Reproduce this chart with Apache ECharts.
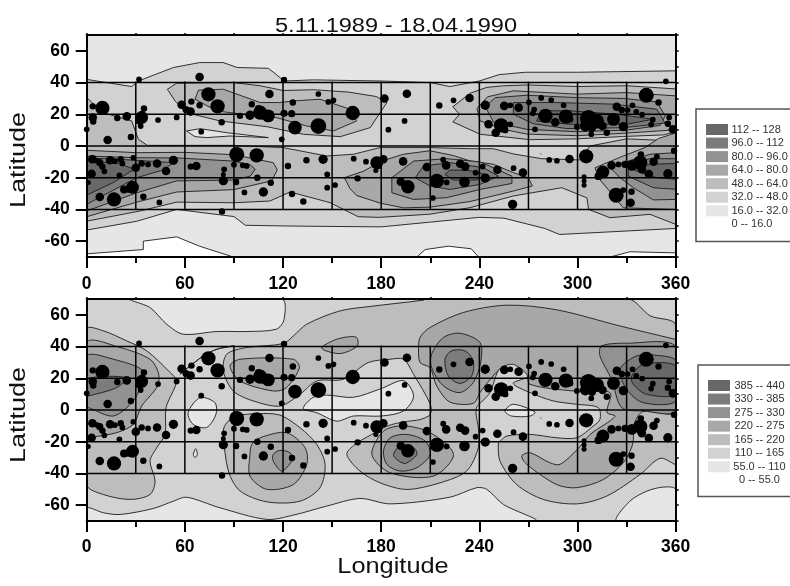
<!DOCTYPE html>
<html><head><meta charset="utf-8"><style>html,body{margin:0;padding:0;background:#fff}#c{width:790px;height:586px}</style>
<script src="https://cdn.jsdelivr.net/npm/echarts@6/dist/echarts.min.js"></script></head><body><div id="c"></div>
<script>
const titleText='5.11.1989 - 18.04.1990';
const lonTicks=[0,60,120,180,240,300,360];
const latTicks=[-60,-40,-20,0,20,40,60];
const latMinor=[-70,-60,-50,-40,-30,-20,-10,0,10,20,30,40,50,60,70];
const lonMinor=[0,30,60,90,120,150,180,210,240,270,300,330,360];
const gridLats=[-40,-20,0,20,40];
const gridLons=[30,60,90,120,150,180,210,240,270,300,330];
const levelColors=['#ffffff','#e6e6e6','#d2d2d2','#bdbdbd','#a8a8a8','#929292','#7c7c7c','#686868'];
const legendTop=['112 -- 128','96.0 -- 112','80.0 -- 96.0','64.0 -- 80.0','48.0 -- 64.0','32.0 -- 48.0','16.0 -- 32.0','0 -- 16.0'];
const legendBottom=['385 -- 440','330 -- 385','275 -- 330','220 -- 275','165 -- 220','110 -- 165','55.0 -- 110','0 -- 55.0'];
// sunspot groups: longitude, latitude, magnitude
const spots=[[0,10.5,16],[32,42,16],[69,43.5,24],[74.4,32.6,40],[80,25,40],[64,28,18],[69,25.7,18],[58,26,24],[60.7,23,20],[63.5,21.7,24],[55,18,16],[43.6,16.4,16],[33.6,18,36],[35,23.6,18],[34,20.6,16],[32,15.8,20],[33,12.6,16],[24.5,18.7,24],[18.7,17.7,18],[9.6,24,40],[3.7,25,18],[3.7,18,24],[4,15.4,18],[12.8,3.8,24],[27,5.7,18],[70,9,16],[82.5,15,18],[111.7,32.8,24],[100.9,26.3,18],[93.7,19,18],[99.8,19.4,26],[106,21,40],[111,19,36],[108,20,30],[105,23.6,20],[120.6,41.7,18],[126,27.4,18],[120.6,20.6,20],[125.3,20.4,20],[127.3,11.6,38],[141.6,12.6,44],[141.6,32.8,16],[147.7,27.8,16],[150.8,28.8,16],[162.6,20.8,40],[119.2,4.2,16],[91.7,-5.3,42],[103.9,-5.9,40],[90,-11.8,16],[95.4,-12.2,16],[97.8,-12.6,16],[104.3,-20,18],[91.3,-22.7,18],[84,-14.7,16],[83.5,-17.9,14],[83.5,-21.9,26],[96.4,-29.3,16],[108,-29,26],[112.5,-23.2,18],[123,-12.6,18],[134.3,-9,18],[144.5,-8.4,26],[147,-17.9,16],[151.8,-24.6,16],[147,-26.3,16],[125.5,-30.3,18],[132.4,-35,18],[82.7,-41.3,18],[163.2,-8,16],[170.7,-9.9,16],[165.6,-20.4,18],[177.3,-10.5,36],[181.3,-8.4,24],[178.2,-12.6,18],[176.7,-15.4,14],[182,30,24],[184.4,10.3,16],[3.5,-8.4,24],[8,-10.5,20],[9.6,-13,18],[10.8,-16,16],[6.5,-9.5,16],[14.3,-9,24],[17.3,-9.5,16],[20.8,-8.4,18],[21.8,-11,16],[28.5,-7.4,16],[30,-13.7,24],[33.6,-11,18],[37.5,-11.6,16],[43,-11,24],[48.5,-15.8,24],[53,-9,26],[63.6,-13,18],[67,-12.6,24],[3,-17.5,24],[1,-23,14],[20,-18.5,16],[8,-32.2,24],[16.7,-33.7,40],[22.8,-27.4,22],[28,-26,36],[25.5,-27,22],[34.6,-32,18],[44.4,-35.6,16],[195.7,33,24],[194.3,15.8,16],[215.5,25.5,18],[224.2,28.8,16],[234,30.3,24],[243.6,25.7,26],[255.2,25.3,24],[258.9,25.7,16],[264,24.2,24],[270.3,27.6,16],[277.8,30.3,16],[283.9,29,16],[291.5,25.7,16],[273.5,23,16],[272.7,20.6,16],[280.4,19,40],[286.4,15,24],[292.9,18.5,40],[295.5,16.8,18],[274,10.5,16],[245.6,13.7,24],[253.3,13,40],[250,8.4,24],[255.8,10,18],[258.9,13.7,16],[299.6,12,16],[306.7,17.3,48],[311.8,15.8,40],[308.8,11.6,24],[304.7,12.6,30],[315.3,12.6,24],[317.9,8.4,18],[308.4,7.4,16],[322,16.8,36],[328,12.2,26],[324,24.8,24],[327,22.7,18],[330.6,22.7,16],[333.6,25.7,16],[335.9,21.5,16],[339.5,19.8,16],[342,32,42],[349.5,27.4,18],[354,40.8,16],[346,16.6,16],[345,13.5,16],[356,18,16],[355.2,14,18],[358.3,10.5,24],[359,-3,18],[305.3,-6.5,40],[295.1,-8.2,24],[287.4,-9.3,16],[282.7,-8.8,16],[277.6,-5,3],[266.6,-16.8,24],[260.9,-14,16],[251,-15,24],[243.6,-20.2,26],[242,-13,16],[237.7,-16.8,16],[231.3,-13,24],[228.3,-11.2,24],[230.9,-22.7,30],[220,-23,16],[214,-22,40],[219.7,-12.2,24],[217.9,-8.6,16],[207.9,-13.3,24],[193.4,-9.7,24],[192,-22.5,24],[196.3,-25.7,38],[211.6,-32.8,16],[260.3,-36.8,26],[304,-19.4,14],[304,-22,14],[304,-24.8,14],[315.5,-16.4,36],[312.8,-19,22],[320.8,-12.2,24],[325,-11.6,16],[329,-11.6,20],[333.2,-12.2,30],[338.3,-10.5,40],[338.7,-5.3,18],[339.3,-14.7,24],[346.5,-9.9,24],[348.5,-6.7,16],[343.6,-17.7,24],[355.2,-17.5,26],[323.6,-31,42],[328,-27.8,16],[333,-28.8,18],[332.4,-35.8,24]];

// ---- upper panel contours (lon, lat) ----
const tBase=[[0,70],[360,70],[360,-70],[0,-70]];
const tHoleA=[[0,-70],[0,-68],[34.6,-65.3],[34.6,-60],[55,-57.3],[69,-63.2],[89.6,-70]];
const tHoleB=[[201.8,-70],[206.9,-65.3],[221,-63.2],[235,-64.8],[239.5,-70]];
const tHoleC=[[320,-70],[332,-66.7],[360,-67.4],[360,-70]];
const tBand=[[0,42],[27.5,37.5],[31.6,41],[53,49.5],[69,52.6],[83.5,52.6],[92,49.5],[111,49],[116,45],[120.6,41],[138.5,41.7],[180,41],[210,40],[222,37.5],[240,41],[252,45],[268,46.5],[300,46.5],[360,47.4],[360,-52],[289,-55.8],[280,-52],[255,-45.5],[240,-45],[210,-48],[180,-51],[126,-50.5],[97,-50],[90,-44.5],[55,-40],[30.5,-47.5],[0,-53]];
const tLens=[[61,9.5],[69.3,10.9],[85.6,8.4],[111,5.3],[87.6,6.3],[73.3,5.3],[66.2,5.9]];
const tNorthA3=[[49.3,35.8],[55,39.6],[89.6,40],[106,38],[120,35],[138.5,35.5],[160,34],[177,31.2],[183.5,27.4],[173.3,11.6],[155,5.9],[132.4,7.4],[110,12.2],[81.5,15.8],[61,21],[54,28.4]];
const tNorthA4=[[66.2,29.5],[68.3,35.2],[83.5,35.8],[106,27.4],[118,27.4],[126.3,28.4],[142.6,29.5],[161,23.2],[165,15.8],[150.8,9.5],[134.5,12.6],[116,17.9],[95.8,20],[79.5,22.1]];
const tNorthB3=[[223.8,24.8],[234.4,33.3],[244.6,37],[255,38],[270,38.5],[300,37.5],[330,38],[360,36],[360,9],[352.6,7],[328,6],[299.6,4.5],[271,4],[240.5,7.4],[223.8,15.2],[227.9,20]];
const tNorthB4=[[238.5,23.6],[245,31],[260.8,34.8],[299.6,32.7],[330,33.7],[360,31.6],[360,11],[356.6,10],[328,8],[299.6,6.5],[269,7.5],[254.8,10.5],[240.5,15.8]];
const tNorthB5=[[243.6,24.8],[249.7,30.5],[269,32],[299.6,30.5],[328,30],[348.5,27.8],[353.6,19],[350.5,13],[330,10],[299.6,9],[269,10.5],[248.7,15]];
const tNorthB6=[[260.8,20],[260.8,27.4],[287.3,27.4],[321.9,26.4],[348.4,23.2],[353.5,14.5],[328,11.5],[293.4,11],[273,14]];
const tNorthB7=[[275,15.8],[278,22.2],[295.4,22.2],[324,20],[346.4,16.9],[330,13.7],[295.4,13.7]];
const tSouth3=[[0,30.5],[10,21],[27.5,15.8],[31.6,4.2],[37,0.4],[89.6,0.4],[120,-1],[146.7,-6.3],[163,-5.2],[179.3,-1],[209.8,-1],[234.3,-1.7],[248.5,-1.7],[260.8,-5],[278,-8],[301.5,-8.8],[307.6,0],[330,4.5],[360,3.2],[360,-49.4],[344.3,-43.1],[319.8,-45.2],[306.8,-40],[305.7,-32.7],[290.4,-26.3],[260.8,-31.5],[234.3,-38.9],[209.8,-43],[179,-45],[166,-44.6],[157,-40],[148.7,-35.7],[124.3,-29],[112,-34.7],[89.6,-35.8],[55,-35.4],[32.6,-41],[0,-47.4]];
const tLeft4=[[0,-2.7],[30.6,-4.2],[60,-4],[90,-5.5],[114,-10.5],[116.5,-15],[113,-22],[90,-27.5],[55,-29],[30.6,-35.4],[0,-44.6]];
const tLeft5=[[0,-6.3],[30.6,-7.4],[55,-7.5],[89.6,-9.5],[100,-12],[103,-14.7],[100,-19],[89.6,-21.5],[55,-22],[30.6,-29.5],[0,-41]];
const tLeft6=[[0,-7.4],[30,-9],[53,-10.5],[47,-15],[30.6,-20],[0,-36.8]];
const tLeft7=[[0,-9.5],[20,-11],[29,-14.7],[16.3,-23],[0,-31]];
const tMid4=[[157.5,-20],[169.4,-15.8],[180,-9.6],[193.6,-5.2],[209.8,-3],[224,-6],[234.3,-9.4],[248.5,-11.5],[260.8,-16.8],[269.9,-20],[272.4,-25.2],[260.8,-28.4],[234.3,-35],[209.8,-38.6],[193.6,-39],[179.3,-36],[165,-31.2],[161,-27]];
const tMid5=[[186.5,-20],[199.8,-9.5],[220,-8],[240.5,-10],[259.9,-19],[259.9,-23.6],[240.5,-27.4],[220,-32.6],[199.8,-33.7],[186.5,-29.5]];
const tMid6=[[200.8,-20],[205.9,-12.6],[222,-10.5],[242.5,-13.7],[251.7,-19],[240.5,-24.2],[222,-27.4],[210,-25.3]];
const tMid7=[[219,-17.9],[222,-15.2],[232.4,-15.2],[243.6,-17.9],[238.5,-21.5],[224,-21.5]];
const tRight4=[[360,8.4],[357.5,7.4],[349.4,4.7],[341.2,-1],[328,-6.3],[310.7,-13.7],[312.7,-20],[328,-39],[360,-40]];
const tRight5=[[320.8,-12.6],[328,-10.5],[344.3,-5.2],[360,-4.2],[360,-33.7],[346.3,-34],[334.1,-26.3],[326,-20],[320.8,-14.7]];
const tRight6=[[331,-11.5],[344.3,-8],[360,-8],[360,-27.3],[346.3,-26.3],[331,-19]];
const tRight7=[[334,-14.7],[344.3,-11.5],[360,-11],[360,-21],[348.3,-20],[336,-15.8]];
const topContours=[[1,tBase],[0,tHoleA],[0,tHoleB],[0,tHoleC],[2,tBand],[1,tLens],[3,tNorthA3],[4,tNorthA4],[3,tNorthB3],[4,tNorthB4],[5,tNorthB5],[6,tNorthB6],[7,tNorthB7],[3,tSouth3],[4,tLeft4],[5,tLeft5],[6,tLeft6],[7,tLeft7],[4,tMid4],[5,tMid5],[6,tMid6],[7,tMid7],[4,tRight4],[5,tRight5],[6,tRight6],[7,tRight7]];

// ---- lower panel contours (lon, lat) ----
const bBase=[[0,70],[360,70],[360,-70],[0,-70]];
const bFootA=[[0,-61.7],[10.2,-64.8],[20.4,-65.9],[40.7,-62.1],[53,-57.5],[61,-55],[81.5,-61.7],[110,-69],[126.3,-66.3],[146.7,-60.6],[167,-55.8],[185.4,-59.2],[222,-55],[238.4,-49],[244.5,-50],[254.7,-59.6],[274,-70],[0,-70]];
const bFootB=[[323.9,-70],[332,-57.5],[342.3,-51.2],[352.5,-48.6],[360,-50],[360,-70]];
const bCapLens=[[26.5,70],[38.7,64.6],[49,54],[59,47.8],[79.5,49.5],[98,49.5],[116,51],[120.6,57],[119.2,70]];
const bCentreLens=[[62,-1.7],[69.3,7.8],[78.4,4.6],[79,-2.7],[73.3,-11],[65,-9]];
const bTinyLens=[[66.6,-24.4],[67.6,-28],[66.2,-30],[65.2,-28]];
const bMidLens=[[132.4,1],[138.5,8],[146.7,9.4],[163,8],[180,13.5],[193.7,18.5],[199.8,8.7],[193.7,-0.6],[180,-3.8],[163,-3.8],[152.8,-7],[140.6,-1.7]];
const bEastLens=[[255.6,-0.6],[260.7,3.6],[274,-1.3],[271,-3.8],[259.7,-3.8]];
const bRidge=[[57,22.5],[63.2,27.8],[71.3,34.1],[79.5,38.3],[89.6,40.4],[79.5,38.3],[71.3,34.1],[63.2,27.8]];
const bLeft3=[[0,51],[10.2,49.9],[24.4,43.6],[36.7,37.3],[51,23.6],[55,18.3],[48.5,1.5],[47.9,-15.4],[42.8,-23.8],[38.7,-32.2],[41.8,-44.8],[38.7,-53.3],[26.5,-56.4],[10.2,-53.3],[0,-47]];
const bLeft4=[[0,42.5],[20.4,39.4],[38.7,32],[43.8,23.6],[43.4,15.2],[33.6,2.5],[28.5,-9],[18.3,-14.3],[1,-17.5],[0,-17.5]];
const bLeft5=[[0,34],[16.3,32],[34.6,24.6],[32.6,14.1],[28.5,5.7],[16.3,-3.8],[1,1.5],[0,1.5]];
const bLeft6=[[0,19.4],[24.4,20.4],[18.3,14.1],[1,8.8],[0,8.8]];
const bCentre3=[[83.5,-13.3],[86.6,-38.5],[93.7,-51],[110,-57.9],[130.4,-57.5],[142.6,-49],[145.7,-34.3],[140.6,-21.7],[130.4,-11.2],[118,-3.2],[104,-2.3],[91.7,-3.8],[85.6,-8]];
const bCentre4=[[100.9,-21.7],[106,-17.5],[122,-14.3],[133.5,-23.8],[134.5,-34.3],[126.3,-47],[110,-50],[99.8,-41.7],[99.8,-28]];
const bCentre5=[[114,-28],[118,-25.5],[124.3,-27],[125.3,-32],[119.2,-38.5],[114,-32.2]];
const bNorth4=[[87.6,27.8],[93.7,32],[126.3,32],[130,26.7],[122,14],[114,12],[93.7,18.3]];
const bNorthSmall4=[[143.6,39],[152.8,44.6],[164.6,46],[165.4,40.4],[154.8,35.6]];
const bGiant3=[[205.9,69.3],[207,70],[331,70],[344.4,59.4],[360,53.5],[360,-34.5],[359.6,-34.3],[350.4,-30.5],[338.2,-40.7],[317.8,-54.3],[299.5,-59.2],[279.1,-56.4],[262.8,-47],[252.6,-32.2],[251.6,-20.6],[252.7,-19.6],[256.8,-16.4],[271,-15.4],[287.4,-17.5],[299.6,-17.5],[309.6,-10.1],[313.7,-5.9],[312.7,1.5],[299.4,3.6],[285.2,5.7],[270.9,11],[260.7,16.8],[269.9,21.5],[260.7,29.9],[252.6,26.7],[246.5,11],[242.5,6.3],[238,0.8],[239.5,-12.4],[239.4,-23.8],[232.2,-38.5],[216,-45.9],[195.6,-50.1],[179.3,-45.9],[167,-38.5],[159,-28],[164,-21.7],[174,-15.5],[184,-10],[193.7,-7.5],[203.8,-6],[210,-2.7],[210,3.6],[199.8,22.5],[193.7,32],[185.5,32],[172,29.9],[156.9,19.4],[140.6,18.3],[130.4,9.9],[118.2,2.5],[101.9,5.7],[89.6,12],[83.5,24.6],[85.6,35.2],[97.8,39.4],[120.2,41.9],[126.3,46.7],[134.5,54.1],[154.8,62.5],[173.3,65.3]];
const bBand4=[[209.8,52],[230.2,61.5],[256.7,66.1],[287.2,63.2],[325.9,53],[359.6,44.6],[360,44.6],[360,-1],[340,-1],[335,-8],[334,-19.6],[333,-23.8],[328,-33.3],[315.8,-43.8],[299.5,-49],[287.2,-47],[269,-34.3],[265.9,-29],[271,-27],[283.2,-33.3],[289.3,-34.3],[300.5,-24.2],[307.7,-15.4],[323,-4],[318,-1.5],[319.8,11],[297.4,12],[270.9,16.2],[268.9,22.5],[260.7,28.8],[253.6,26.7],[247.5,20.4],[240.4,11],[236.3,4.2],[222,5],[213.9,15.2],[209.8,26.7],[203.8,29.9],[202.8,38.4],[203.8,45.8]];
const bSouth4=[[174.3,-28],[181.4,-13.3],[193.7,-10],[210,-14.3],[224.2,-28],[212,-41.7],[185.5,-39.6]];
const bSouth5=[[181.4,-25.9],[185.5,-17.5],[195.7,-15.4],[206.9,-19.6],[210,-28],[201.8,-36.4],[191.6,-38.5],[183.5,-34.3]];
const bSouth6=[[187.5,-28],[191.6,-22.7],[199.8,-23.8],[201.8,-28],[194.7,-33.7],[189.6,-31.2]];
const bHill5=[[210.8,35.2],[218,45.7],[228.1,48.4],[240.4,42.5],[240.8,29.9],[236.3,17.3],[228.1,11],[218,15.2],[210.8,26.7]];
const bHill6=[[219,32],[223,37.3],[231.2,37.3],[236.3,31],[235.3,21.5],[228.1,16.8],[221,21.5]];
const bEast5=[[314.7,40.4],[330,42.1],[360,40],[360,-0.6],[340.2,-0.6],[327,1.5],[320.8,19.4],[313.7,34.1]];
const bEast6=[[326,25.7],[336.1,34.1],[348.3,34.5],[360,31],[360,5.7],[340.2,4.6],[330,13]];
const bEast7=[[333.1,21.5],[340.2,28.8],[360,27.8],[360,9.9],[342.2,9.9],[334.1,16.2]];
const bottomContours=[[2,bBase],[1,bFootA],[1,bFootB],[1,bCapLens],[1,bCentreLens],[1,bTinyLens],[1,bMidLens],[1,bEastLens],[2,bRidge],[3,bLeft3],[4,bLeft4],[5,bLeft5],[6,bLeft6],[3,bCentre3],[4,bCentre4],[5,bCentre5],[3,bGiant3],[4,bNorth4],[4,bNorthSmall4],[4,bBand4],[4,bSouth4],[5,bSouth5],[6,bSouth6],[5,bHill5],[6,bHill6],[5,bEast5],[6,bEast6],[7,bEast7]];

const font='"Liberation Sans", Arial, sans-serif';
function contourSeries(list,axisIdx,smooth){
  return {type:'custom',xAxisIndex:axisIdx,yAxisIndex:axisIdx,z:2,clip:true,silent:true,
    data:list.map((c,i)=>[i]),encode:{x:-1,y:-1},
    renderItem(p,api){const c=list[p.dataIndex];
      return {type:'polygon',shape:{points:c[1].map(q=>api.coord(q)),smooth:smooth},
        style:{fill:levelColors[c[0]],stroke:c[1]===tBase||c[1]===bBase?null:'#1c1c1c',lineWidth:0.9}};}};
}
function gridSeries(axisIdx){
  const segs=gridLats.map(v=>[[0,v],[360,v]]).concat(gridLons.map(v=>[[v,-40],[v,40.6]]));
  return {type:'custom',xAxisIndex:axisIdx,yAxisIndex:axisIdx,z:3,clip:true,silent:true,
    data:segs.map((s,i)=>[i]),encode:{x:-1,y:-1},
    renderItem(p,api){const s=segs[p.dataIndex];const a=api.coord(s[0]),b=api.coord(s[1]);
      return {type:'line',shape:{x1:a[0],y1:a[1],x2:b[0],y2:b[1]},style:{stroke:'#000',lineWidth:1.5}};}};
}
function spotSeries(axisIdx){
  return {type:'scatter',xAxisIndex:axisIdx,yAxisIndex:axisIdx,z:4,clip:false,silent:true,data:spots,
    symbolSize:d=>d[2]/2.8,itemStyle:{color:'#000',opacity:1}};
}
const lbl={color:'#000',fontFamily:font,fontSize:17.5,fontWeight:'bold'};
const axLine={show:true,onZero:false,lineStyle:{color:'#000',width:2}};
function xPair(g,mg){return [
  {type:'value',gridIndex:g,min:0,max:360,interval:60,position:'bottom',z:10,axisLine:axLine,splitLine:{show:false},
   axisTick:{length:11,lineStyle:{color:'#000',width:2}},minorTick:{show:true,splitNumber:2,length:6,lineStyle:{color:'#000',width:2}},minorSplitLine:{show:false},
   axisLabel:Object.assign({margin:mg,showMinLabel:true,showMaxLabel:true},lbl)},
  {type:'value',gridIndex:g,min:0,max:360,position:'top',z:10,axisLine:axLine,splitLine:{show:false},
   axisTick:{length:2,customValues:lonMinor,lineStyle:{color:'#000',width:1.5}},axisLabel:{show:false}}];}
function yPair(g){return [
  {type:'value',gridIndex:g,min:-70,max:70,position:'left',z:10,axisLine:axLine,splitLine:{show:false},
   axisTick:{length:11,customValues:latTicks,lineStyle:{color:'#000',width:2}},
   axisLabel:Object.assign({margin:17,customValues:latTicks},lbl)},
  {type:'value',gridIndex:g,min:-70,max:70,position:'right',z:10,axisLine:axLine,splitLine:{show:false},
   axisTick:{length:3,customValues:latMinor,lineStyle:{color:'#000',width:1.5}},axisLabel:{show:false}}];}

function legendGraphic(labels,boxX,boxY,boxH,swX,firstY,txtX,align){
  const els=[{type:'rect',shape:{x:boxX,y:boxY,width:120,height:boxH},style:{fill:'#fff',stroke:'#555',lineWidth:1.5}}];
  labels.forEach((t,i)=>{
    const lv=7-i;
    if(lv>0)els.push({type:'rect',shape:{x:swX,y:firstY+i*13.55,width:22,height:11},style:{fill:levelColors[lv]}});
    els.push({type:'text',x:txtX,y:firstY+i*13.55+5.5,style:{text:t,fill:'#333',font:'11px '+font,align:align,verticalAlign:'middle'}});
  });
  return els;
}
function txt(t,x,y,size,rot,sx){return {type:'text',x:x,y:y,rotation:rot||0,scaleX:sx||1,z:20,
  style:{text:t,fill:'#111',font:size+'px '+font,align:'center',verticalAlign:'middle'}};}
const chart=echarts.init(document.getElementById('c'),null,{renderer:'canvas'});
chart.setOption({animation:false,backgroundColor:'#fff',
  grid:[{left:86.7,top:35,width:589,height:222},{left:86.7,top:299,width:589,height:222}],
  xAxis:[...xPair(0,18),...xPair(1,17)],
  yAxis:[...yPair(0),...yPair(1)],
  series:[contourSeries(topContours,0,0),gridSeries(0),spotSeries(0),
          contourSeries(bottomContours,2,0.3),gridSeries(2),spotSeries(2)],
  graphic:[txt(titleText,396,26,20.5,0,1.15),
    txt('Latitude',19,160,22.5,Math.PI/2,1.2),txt('Latitude',19,415,22.5,Math.PI/2,1.2),
    txt('Longitude',393,567,21.5,0,1.18),
    ...legendGraphic(legendTop,696,109,132.5,706,124,731.5,'left'),
    ...legendGraphic(legendBottom,698,365,131.5,708,380,759.5,'center')]
});
</script></body></html>
